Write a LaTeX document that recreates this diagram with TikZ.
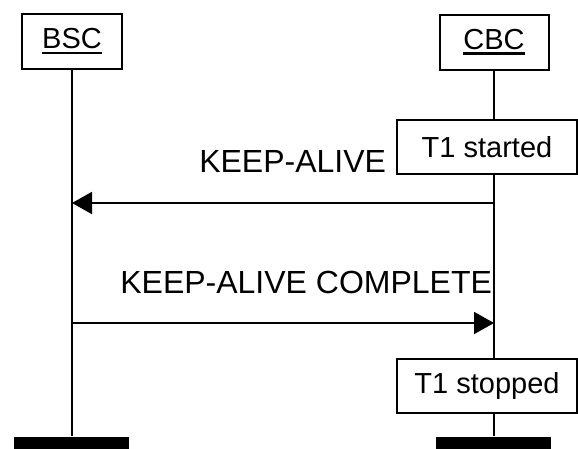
\documentclass[tikz,border=0pt]{standalone}
\usepackage{fontspec}
\setmainfont{Liberation Sans}
\usetikzlibrary{arrows.meta}
\newcommand\myul[1]{\setbox0\hbox{#1}\rlap{\vrule height -2.8pt depth 5.3pt width \wd0}\box0}
\begin{document}
\begin{tikzpicture}[x=1pt,y=-1pt, line width=2pt,
  every node/.style={font=\fontsize{29}{34}\selectfont},
  entity/.style={draw, fill=white, minimum height=55pt, inner sep=0pt},
  timer/.style={draw, fill=white, minimum height=54pt, minimum width=180pt, inner sep=0pt},
  bar/.style={fill=black, minimum width=115pt, minimum height=14pt, inner sep=0pt, anchor=north},
  msg/.style={-{Triangle[length=20pt,width=22pt]}},
  lbl/.style={inner sep=0pt, anchor=base east, font=\fontsize{32}{38}\selectfont}]
\useasboundingbox (0,0) rectangle (578,448);
\node[entity, minimum width=100pt] (bsc) at (72,41.5) {\myul{BSC}};
\node[entity, minimum width=109pt] (cbc) at (494,42) {\myul{CBC}};
\node[bar] (bscbar) at (71,436) {};
\node[bar] (cbcbar) at (493.5,436) {};
\draw (bsc.south) -- (bsc.south |- bscbar.north);
\draw (cbc.south) -- (cbc.south |- cbcbar.north);
\node[timer] (t1start) at (487,147) {T1 started};
\node[timer] (t1stop) at (487,386) {T1 stopped};
\coordinate (m1s) at (cbc.south |- 0,203);
\coordinate (m1e) at (bsc.south |- 0,203);
\coordinate (m2s) at (bsc.south |- 0,323);
\coordinate (m2e) at (cbc.south |- 0,323);
\draw[msg] (m1s) -- (m1e);
\draw[msg] (m2s) -- (m2e);
\node[lbl] (l1) at (387,172) {KEEP-ALIVE};
\node[lbl] (l2) at (493,293) {KEEP-ALIVE COMPLETE};
\end{tikzpicture}
\end{document}
